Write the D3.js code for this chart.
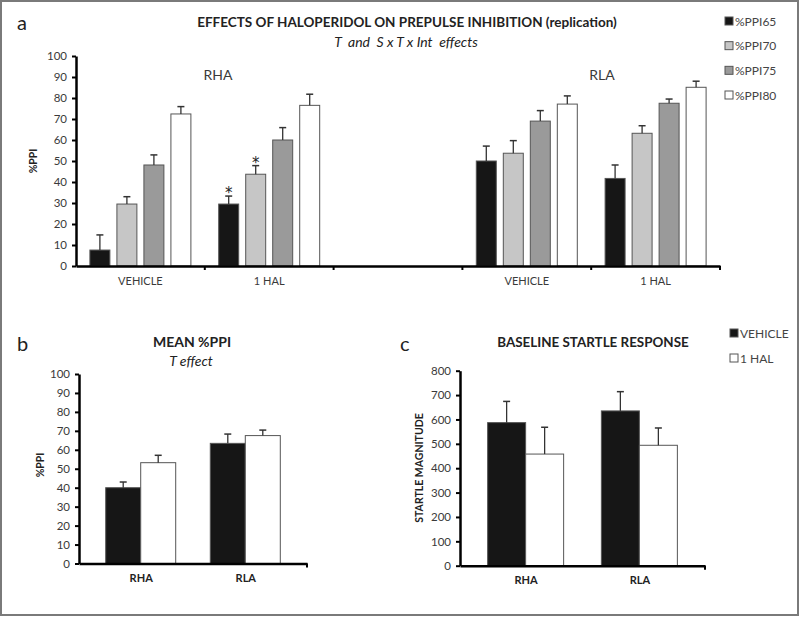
<!DOCTYPE html>
<html><head><meta charset="utf-8">
<script src="https://cdn.jsdelivr.net/npm/d3@7"></script>
<style>body{margin:0;background:#fff}svg{display:block}text{font-family:Lato,"Open Sans",sans-serif}</style>
</head><body>
<script>
// ---------- Panel a data ----------
const aCategories = ["RHA VEHICLE", "RHA 1 HAL", "gap", "RLA VEHICLE", "RLA 1 HAL"];
const aTickLabels = ["VEHICLE", "1 HAL", "", "VEHICLE", "1 HAL"];
const aSeries = ["%PPI65", "%PPI70", "%PPI75", "%PPI80"];
const aColors = ["#161616", "#c6c6c6", "#9a9a9a", "#ffffff"];
const ppi65 = [7.6, 29.5, null, 50.0, 41.7];
const ppi70 = [29.5, 43.7, null, 53.7, 63.2];
const ppi75 = [48.1, 60.0, null, 69.0, 77.5];
const ppi80 = [72.4, 76.5, null, 77.1, 85.1];
const err65 = [7.2, 3.8, null, 7.1, 6.4];
const err70 = [3.5, 4.1, null, 6.0, 3.6];
const err75 = [4.8, 5.9, null, 5.0, 2.0];
const err80 = [3.5, 5.3, null, 3.9, 2.9];
const aStars = [["RHA 1 HAL", "%PPI65"], ["RHA 1 HAL", "%PPI70"]];
const aYTicks = [0, 10, 20, 30, 40, 50, 60, 70, 80, 90, 100];
const aStrains = ["RHA", "RLA"];

// ---------- Panel b data ----------
const bCategories = ["RHA", "RLA"];
const bTreat = ["VEHICLE", "1 HAL"];
const bVehicle = [40.0, 63.4];
const bHal = [53.2, 67.5];
const bVehicleErr = [3.0, 4.9];
const bHalErr = [3.9, 2.9];
const bYTicks = [0, 10, 20, 30, 40, 50, 60, 70, 80, 90, 100];

// ---------- Panel c data ----------
const cCategories = ["RHA", "RLA"];
const cTreat = ["VEHICLE", "1 HAL"];
const cVehicle = [587, 635];
const cHal = [458, 494];
const cVehicleErr = [87, 79];
const cHalErr = [110, 71];
const cYTicks = [0, 100, 200, 300, 400, 500, 600, 700, 800];
const treatColors = ["#161616", "#ffffff"];

const W = 800, H = 617;
const svg = d3.select("body").append("svg").attr("width", W).attr("height", H);
svg.append("rect").attr("x", 1).attr("y", 1).attr("width", 797).attr("height", 614)
  .attr("fill", "#fff").attr("stroke", "#7a7a7a").attr("stroke-width", 2);

const TXT = "#3a3a3a";

function styleYAxis(g) {
  g.select(".domain").attr("stroke", "#000").attr("stroke-width", 2.5);
  g.selectAll(".tick line").attr("stroke", "#000").attr("stroke-width", 2);
  g.selectAll(".tick text").attr("fill", TXT).style("font-size", "11.5px");
}
function errBar(g, x, yBase, yTop) {
  g.append("line").attr("x1", x).attr("x2", x).attr("y1", yBase).attr("y2", yTop)
    .attr("stroke", "#333").attr("stroke-width", 1.3);
  g.append("line").attr("x1", x - 3.5).attr("x2", x + 3.5).attr("y1", yTop).attr("y2", yTop)
    .attr("stroke", "#333").attr("stroke-width", 1.5);
}

// ================= Panel a =================
(function () {
  const x = d3.scaleBand().domain(aCategories).range([76, 720]).paddingInner(0).paddingOuter(0);
  const xs = d3.scaleBand().domain(aSeries).range([0, x.bandwidth()]).paddingInner(0.26).paddingOuter(0.515);
  const y = d3.scaleLinear().domain([0, 100]).range([266, 56]);
  const vals = [ppi65, ppi70, ppi75, ppi80];
  const errs = [err65, err70, err75, err80];
  const g = svg.append("g");

  aSeries.forEach((s, si) => {
    aCategories.forEach((c, ci) => {
      const v = vals[si][ci];
      if (v == null) return;
      const bx = x(c) + xs(s);
      g.append("rect").attr("x", bx).attr("y", y(v)).attr("width", xs.bandwidth())
        .attr("height", y(0) - y(v)).attr("fill", aColors[si]).attr("stroke", "#555").attr("stroke-width", 1);
      errBar(g, bx + xs.bandwidth() / 2, y(v), y(v + errs[si][ci]));
    });
  });
  aStars.forEach(([c, s]) => {
    const si = aSeries.indexOf(s), ci = aCategories.indexOf(c);
    g.append("text").attr("x", x(c) + xs(s) + xs.bandwidth() / 2)
      .attr("y", y(vals[si][ci] + errs[si][ci]) + 2)
      .attr("text-anchor", "middle").attr("fill", "#222")
      .style("font-family", "'DejaVu Sans'").style("font-size", "15px").text("*");
  });

  const ya = svg.append("g").attr("transform", "translate(76,0)")
    .call(d3.axisLeft(y).tickValues(aYTicks).tickSize(4).tickSizeOuter(0).tickPadding(5));
  styleYAxis(ya);

  const xa = svg.append("g").attr("transform", "translate(0,266)")
    .call(d3.axisBottom(x).tickSize(0).tickPadding(11).tickFormat((d, i) => aTickLabels[i]));
  xa.select(".domain").attr("stroke", "#000").attr("stroke-width", 2.5);
  xa.selectAll(".tick text").attr("fill", TXT).style("font-size", "11px");
  aCategories.forEach(c => {
    svg.append("line").attr("x1", x(c) + x.bandwidth()).attr("x2", x(c) + x.bandwidth())
      .attr("y1", 266).attr("y2", 270).attr("stroke", "#000").attr("stroke-width", 2);
  });

  aStrains.forEach((s, i) => {
    svg.append("text").attr("x", i === 0 ? 218 : 602).attr("y", 80).attr("text-anchor", "middle")
      .attr("fill", TXT).style("font-size", "14px").text(s);
  });

  svg.append("text").attr("transform", "translate(37,161) rotate(-90)").attr("text-anchor", "middle")
    .attr("fill", "#222").style("font-size", "10.5px").style("font-weight", "bold").text("%PPI");

  svg.append("text").attr("x", 17).attr("y", 30).attr("fill", "#222").style("font-size", "20px").text("a");
  svg.append("text").attr("x", 407).attr("y", 27).attr("text-anchor", "middle").attr("fill", "#222")
    .style("font-size", "13.5px").style("font-weight", "bold")
    .text("EFFECTS OF HALOPERIDOL ON PREPULSE INHIBITION (replication)");
  svg.append("text").attr("x", 406).attr("y", 47).attr("text-anchor", "middle").attr("fill", "#222")
    .style("font-size", "14px").style("font-style", "italic").attr("xml:space", "preserve")
    .text("T  and  S x T x Int  effects");

  const legY = d3.scalePoint().domain(aSeries).range([21, 95]);
  aSeries.forEach((s, i) => {
    svg.append("rect").attr("x", 725).attr("y", legY(s) - 4).attr("width", 8).attr("height", 8)
      .attr("fill", aColors[i]).attr("stroke", "#555").attr("stroke-width", 1);
    svg.append("text").attr("x", 735).attr("y", legY(s) + 4.5).attr("fill", "#444")
      .style("font-size", "12px").text(s);
  });
})();

// ================= Panel b / c generic =================
function groupPanel(opts) {
  const { cats, treat, vals, errs, yDomain, yRange, yTicks, xRange, pad, half } = opts;
  const x = d3.scalePoint().domain(cats).range(xRange).padding(pad);
  const xs = d3.scaleBand().domain(treat).range([-half, half]).padding(0);
  const y = d3.scaleLinear().domain(yDomain).range(yRange);
  const g = svg.append("g");
  treat.forEach((t, ti) => {
    cats.forEach((c, ci) => {
      const v = vals[ti][ci];
      const bx = x(c) + xs(t);
      g.append("rect").attr("x", bx).attr("y", y(v)).attr("width", xs.bandwidth())
        .attr("height", y(0) - y(v)).attr("fill", treatColors[ti]).attr("stroke", "#555").attr("stroke-width", 1);
      errBar(g, bx + xs.bandwidth() / 2, y(v), y(v + errs[ti][ci]));
    });
  });
  const ya = svg.append("g").attr("transform", `translate(${xRange[0]},0)`)
    .call(d3.axisLeft(y).tickValues(yTicks).tickSize(4).tickSizeOuter(0).tickPadding(5));
  styleYAxis(ya);
  const xa = svg.append("g").attr("transform", `translate(0,${yRange[0]})`)
    .call(d3.axisBottom(x).tickSize(0).tickPadding(11));
  xa.select(".domain").attr("stroke", "#000").attr("stroke-width", 2.5);
  xa.selectAll(".tick text").attr("fill", "#222").style("font-size", "11px").style("font-weight", "bold");
  svg.append("line").attr("x1", xRange[1]).attr("x2", xRange[1]).attr("y1", yRange[0]).attr("y2", yRange[0] + 4)
    .attr("stroke", "#000").attr("stroke-width", 2);
  return { x, y };
}

// Panel b
groupPanel({
  cats: bCategories, treat: bTreat, vals: [bVehicle, bHal], errs: [bVehicleErr, bHalErr],
  yDomain: [0, 100], yRange: [563.5, 374], yTicks: bYTicks, xRange: [79, 307], pad: 0.59, half: 35
});
svg.append("text").attr("x", 17).attr("y", 351).attr("fill", "#222").style("font-size", "20px").text("b");
svg.append("text").attr("x", 192).attr("y", 347).attr("text-anchor", "middle").attr("fill", "#222")
  .style("font-size", "14px").style("font-weight", "bold").text("MEAN %PPI");
svg.append("text").attr("x", 191).attr("y", 366).attr("text-anchor", "middle").attr("fill", "#222")
  .style("font-size", "14px").style("font-style", "italic").text("T effect");
svg.append("text").attr("transform", "translate(44,465) rotate(-90)").attr("text-anchor", "middle")
  .attr("fill", "#222").style("font-size", "10.5px").style("font-weight", "bold").text("%PPI");

// Panel c
groupPanel({
  cats: cCategories, treat: cTreat, vals: [cVehicle, cHal], errs: [cVehicleErr, cHalErr],
  yDomain: [0, 800], yRange: [565.7, 370.7], yTicks: cYTicks, xRange: [460, 705], pad: 0.577, half: 38
});
svg.append("text").attr("x", 400).attr("y", 351).attr("fill", "#222").style("font-size", "20px").text("c");
svg.append("text").attr("x", 593).attr("y", 347).attr("text-anchor", "middle").attr("fill", "#222")
  .style("font-size", "13.4px").style("font-weight", "bold").text("BASELINE STARTLE RESPONSE");
svg.append("text").attr("transform", "translate(423,468) rotate(-90)").attr("text-anchor", "middle")
  .attr("fill", "#222").style("font-size", "10.5px").style("font-weight", "bold").text("STARTLE MAGNITUDE");
const cLeg = d3.scalePoint().domain(cTreat).range([333, 358]);
cTreat.forEach((t, i) => {
  svg.append("rect").attr("x", 730).attr("y", cLeg(t) - 4).attr("width", 8).attr("height", 8)
    .attr("fill", treatColors[i]).attr("stroke", "#555").attr("stroke-width", 1);
  svg.append("text").attr("x", 740).attr("y", cLeg(t) + 4.5).attr("fill", "#444")
    .style("font-size", "12px").text(t);
});
</script>
</body></html>
